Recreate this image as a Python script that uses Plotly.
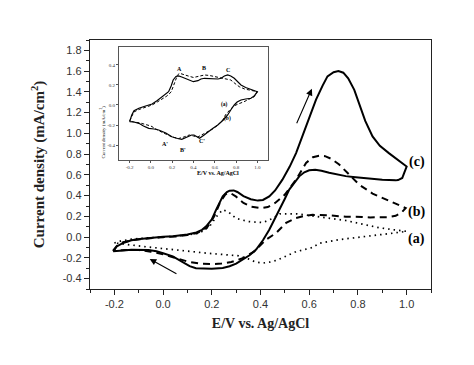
import plotly.graph_objects as go

# ---- main CV curves (E / V vs Ag/AgCl, current density mA/cm2) ----
c_x = [-0.205, -0.19, -0.164, -0.13, -0.095, -0.05, 0.0, 0.04, 0.1, 0.137, 0.16, 0.177, 0.2, 0.218, 0.245, 0.262,
       0.273, 0.29, 0.305, 0.33, 0.36, 0.389, 0.41, 0.436, 0.46, 0.49, 0.52, 0.546, 0.573, 0.6, 0.628, 0.655, 0.675,
       0.7, 0.72, 0.74, 0.76, 0.785, 0.805, 0.83, 0.86, 0.89, 0.927, 0.965, 0.99, 1.0,
       0.99, 0.982, 0.965, 0.955, 0.9, 0.86, 0.818, 0.78, 0.75, 0.723, 0.682, 0.65, 0.625, 0.6, 0.58, 0.559, 0.54,
       0.518, 0.5, 0.477, 0.456, 0.436, 0.41, 0.382, 0.355, 0.327, 0.3, 0.273, 0.245, 0.2, 0.164, 0.135, 0.109,
       0.075, 0.04, 0.0, -0.027, -0.06, -0.095, -0.13, -0.164, -0.19, -0.205]
c_y = [-0.137, -0.09, -0.056, -0.03, -0.018, -0.005, 0.003, 0.008, 0.025, 0.046, 0.07, 0.104, 0.17, 0.265, 0.393, 0.435,
       0.448, 0.45, 0.435, 0.395, 0.365, 0.352, 0.358, 0.393, 0.45, 0.554, 0.68, 0.81, 0.98, 1.15, 1.325, 1.46, 1.55,
       1.59, 1.6, 1.585, 1.53, 1.42, 1.29, 1.12, 0.97, 0.88, 0.81, 0.74, 0.7, 0.68,
       0.62, 0.57, 0.55, 0.547, 0.553, 0.56, 0.57, 0.58, 0.588, 0.6, 0.62, 0.64, 0.65, 0.645, 0.625, 0.586, 0.53,
       0.458, 0.37, 0.265, 0.165, 0.072, -0.03, -0.12, -0.175, -0.217, -0.255, -0.28, -0.297, -0.305, -0.306, -0.3,
       -0.28, -0.235, -0.185, -0.155, -0.137, -0.125, -0.12, -0.122, -0.13, -0.135, -0.137]

b_x = [-0.205, -0.19, -0.164, -0.13, -0.095, -0.05, 0.0, 0.05, 0.1, 0.14, 0.18, 0.21, 0.235, 0.255, 0.266, 0.28,
       0.3, 0.33, 0.36, 0.4, 0.43, 0.46, 0.5, 0.546, 0.587, 0.615, 0.64, 0.665, 0.69, 0.723, 0.764, 0.805, 0.86,
       0.89, 0.95, 0.996,
       0.98, 0.955, 0.92, 0.887, 0.85, 0.818, 0.75, 0.68, 0.614, 0.58, 0.546, 0.505, 0.464, 0.423, 0.375, 0.33,
       0.28, 0.24, 0.2, 0.15, 0.1, 0.05, 0.0, -0.05, -0.1, -0.15, -0.19, -0.205]
b_y = [-0.13, -0.085, -0.05, -0.03, -0.02, -0.01, 0.0, 0.005, 0.02, 0.04, 0.09, 0.2, 0.34, 0.41, 0.425, 0.42,
       0.39, 0.33, 0.295, 0.28, 0.29, 0.33, 0.41, 0.554, 0.715, 0.77, 0.785, 0.78, 0.755, 0.7, 0.6, 0.506, 0.42,
       0.39, 0.33, 0.28,
       0.24, 0.205, 0.192, 0.188, 0.19, 0.195, 0.197, 0.21, 0.215, 0.205, 0.185, 0.137, 0.04, -0.024, -0.137, -0.2,
       -0.24, -0.255, -0.26, -0.255, -0.235, -0.2, -0.165, -0.14, -0.125, -0.125, -0.13, -0.13]

a_x = [-0.2, -0.17, -0.13, -0.1, -0.05, 0.0, 0.05, 0.1, 0.15, 0.19, 0.22, 0.245, 0.27, 0.3, 0.35, 0.41, 0.45,
       0.48, 0.55, 0.614, 0.68, 0.75, 0.82, 0.887, 0.95, 1.0,
       0.95, 0.887, 0.82, 0.75, 0.723, 0.64, 0.614, 0.546, 0.51, 0.47, 0.44, 0.41, 0.38, 0.35, 0.31, 0.245, 0.18,
       0.11, 0.05, -0.027, -0.1, -0.136, -0.17, -0.2]
a_y = [-0.056, -0.035, -0.02, -0.012, -0.005, 0.0, 0.008, 0.02, 0.04, 0.1, 0.2, 0.265, 0.24, 0.18, 0.15, 0.14, 0.18,
       0.225, 0.225, 0.205, 0.185, 0.16, 0.125, 0.09, 0.07, 0.056,
       0.04, 0.024, 0.005, -0.01, -0.024, -0.06, -0.1, -0.14, -0.18, -0.22, -0.24, -0.25, -0.24, -0.21, -0.18,
       -0.169, -0.155, -0.137, -0.12, -0.104, -0.085, -0.072, -0.062, -0.056]

# ---- inset curves ----
in_s_x = [-0.2, -0.18, -0.159, -0.113, -0.05, 0.011, 0.06, 0.104, 0.14, 0.166, 0.19, 0.209, 0.235, 0.26, 0.29, 0.32,
          0.36, 0.399, 0.442, 0.47, 0.504, 0.55, 0.597, 0.63, 0.66, 0.69, 0.721, 0.75, 0.783, 0.815, 0.846, 0.89,
          0.939, 0.97, 1.0,
          0.97, 0.939, 0.89, 0.846, 0.81, 0.783, 0.75, 0.721, 0.68, 0.628, 0.58, 0.535, 0.5, 0.457, 0.43, 0.405,
          0.383, 0.36, 0.337, 0.31, 0.29, 0.25, 0.197, 0.14, 0.073, 0.03, -0.02, -0.07, -0.113, -0.16, -0.2]
in_s_y = [-0.167, -0.1, -0.057, -0.033, -0.01, 0.01, 0.045, 0.083, 0.11, 0.133, 0.19, 0.25, 0.285, 0.29, 0.28, 0.267,
          0.25, 0.233, 0.243, 0.26, 0.267, 0.262, 0.257, 0.26, 0.267, 0.29, 0.3, 0.29, 0.267, 0.235, 0.2, 0.175,
          0.157, 0.145, 0.133,
          0.09, 0.067, 0.06, 0.05, 0.03, 0.0, -0.05, -0.1, -0.15, -0.2, -0.235, -0.267, -0.3, -0.333, -0.32, -0.3,
          -0.3, -0.31, -0.317, -0.335, -0.343, -0.335, -0.317, -0.28, -0.25, -0.24, -0.233, -0.21, -0.183, -0.17, -0.167]
in_d_x = [-0.2, -0.16, -0.113, -0.05, 0.011, 0.06, 0.104, 0.15, 0.19, 0.22, 0.25, 0.27, 0.3, 0.35, 0.4, 0.45, 0.504,
          0.55, 0.6, 0.65, 0.7, 0.75, 0.79, 0.83, 0.88, 0.94, 1.0,
          0.97, 0.93, 0.875, 0.82, 0.78, 0.74, 0.7, 0.675, 0.63, 0.58, 0.53, 0.48, 0.44, 0.4, 0.36, 0.31, 0.26,
          0.2, 0.14, 0.08, 0.0, -0.1, -0.16, -0.2]
in_d_y = [-0.16, -0.07, -0.045, -0.025, 0.0, 0.03, 0.06, 0.09, 0.13, 0.22, 0.3, 0.317, 0.305, 0.29, 0.275, 0.285, 0.3,
          0.295, 0.285, 0.27, 0.265, 0.25, 0.215, 0.183, 0.16, 0.145, 0.133,
          0.083, 0.06, 0.033, 0.01, -0.01, -0.05, -0.1, -0.15, -0.2, -0.24, -0.27, -0.3, -0.32, -0.31, -0.3, -0.32,
          -0.335, -0.32, -0.29, -0.26, -0.21, -0.18, -0.17, -0.16]

x_ticks = [-0.2, 0.0, 0.2, 0.4, 0.6, 0.8, 1.0]
x_tick_text = ["-0.2", "0.0", "0.2", "0.4", "0.6", "0.8", "1.0"]
y_ticks = [-0.4, -0.2, 0.0, 0.2, 0.4, 0.6, 0.8, 1.0, 1.2, 1.4, 1.6, 1.8]
y_tick_text = ["-0.4", "-0.2", "0.0", "0.2", "0.4", "0.6", "0.8", "1.0", "1.2", "1.4", "1.6", "1.8"]
in_y_ticks = [-0.4, -0.2, 0.0, 0.2, 0.4]
in_y_tick_text = ["-0.4", "-0.2", "0.0", "0.2", "0.4"]

curve_labels = ["(a)", "(b)", "(c)"]
curve_label_y = [-0.02, 0.245, 0.72]
peak_labels = ["A", "B", "C", "A'", "B'", "C'"]
peak_label_x = [0.27, 0.5, 0.72, 0.135, 0.3, 0.48]
peak_label_y = [0.36, 0.37, 0.345, -0.39, -0.45, -0.36]

SERIF = "Liberation Serif, Times New Roman, serif"
SANS = "Liberation Sans, Arial, sans-serif"

fig = go.Figure()
fig.add_trace(go.Scatter(x=a_x, y=a_y, mode="lines", line=dict(color="black", width=1.7, dash="1.5px,4px"),
                         showlegend=False))
fig.add_trace(go.Scatter(x=b_x, y=b_y, mode="lines", line=dict(color="black", width=2, dash="7px,5px"),
                         showlegend=False))
fig.add_trace(go.Scatter(x=c_x, y=c_y, mode="lines", line=dict(color="black", width=2), showlegend=False))

fig.add_trace(go.Scatter(x=in_d_x, y=in_d_y, mode="lines", xaxis="x2", yaxis="y2",
                         line=dict(color="black", width=1, dash="3px,2px"), showlegend=False))
fig.add_trace(go.Scatter(x=in_s_x, y=in_s_y, mode="lines", xaxis="x2", yaxis="y2",
                         line=dict(color="black", width=1.2), showlegend=False))

annotations = []
for t, yy in zip(curve_labels, curve_label_y):
    annotations.append(dict(x=1.042, y=yy, xref="x", yref="y", text="<b>" + t + "</b>", showarrow=False,
                            font=dict(family=SERIF, size=14, color="black")))
for t, xx, yy in zip(peak_labels, peak_label_x, peak_label_y):
    annotations.append(dict(x=xx, y=yy, xref="x2", yref="y2", text="<b>" + t + "</b>", showarrow=False,
                            font=dict(family=SERIF, size=6, color="black")))
annotations.append(dict(x=0.69, y=0.0, xref="x2", yref="y2", text="<b>(a)</b>", showarrow=False,
                        font=dict(family=SERIF, size=5.5, color="black")))
annotations.append(dict(x=0.72, y=-0.13, xref="x2", yref="y2", text="<b>(b)</b>", showarrow=False,
                        font=dict(family=SERIF, size=5.5, color="black")))
# scan direction arrows
annotations.append(dict(x=0.611, y=1.43, ax=0.546, ay=1.084, xref="x", yref="y", axref="x", ayref="y",
                        showarrow=True, arrowhead=2, arrowsize=1.2, arrowwidth=1.1, arrowcolor="black", text=""))
annotations.append(dict(x=-0.055, y=-0.21, ax=0.061, ay=-0.36, xref="x", yref="y", axref="x", ayref="y",
                        showarrow=True, arrowhead=2, arrowsize=1.2, arrowwidth=1.1, arrowcolor="black", text=""))
# inset axis titles
annotations.append(dict(x=0.307, y=0.466, xref="paper", yref="paper", text="<b>E/V vs. Ag/AgCl</b>",
                        showarrow=False, font=dict(family=SERIF, size=6, color="black")))
annotations.append(dict(x=0.022, y=0.745, xref="paper", yref="paper", text="Current density (mA/cm<sup>2</sup>)",
                        textangle=-90, showarrow=False, font=dict(family=SERIF, size=5, color="black")))

# the page adds an 8px body margin, so the figure is drawn 8px smaller with matching margins
fig.update_layout(
    width=466, height=357,
    margin=dict(l=82, r=43, t=32, b=76),
    paper_bgcolor="white", plot_bgcolor="white",
    showlegend=False,
    annotations=annotations,
    xaxis=dict(range=[-0.3, 1.1], tickvals=x_ticks, ticktext=x_tick_text, ticks="outside", ticklen=5,
               tickwidth=1, tickcolor="#222", showline=True, linecolor="#222", linewidth=1.3, mirror=True,
               showgrid=False, zeroline=False,
               minor=dict(dtick=0.1, tick0=0, ticks="outside", ticklen=3, tickcolor="#222"),
               tickfont=dict(family=SANS, size=11, color="#333"),
               title=dict(text="<b>E/V vs. Ag/AgCl</b>", font=dict(family=SERIF, size=14, color="#222"),
                          standoff=8)),
    yaxis=dict(range=[-0.5, 1.9], tickvals=y_ticks, ticktext=y_tick_text, ticks="outside", ticklen=5,
               tickwidth=1, tickcolor="#222", showline=True, linecolor="#222", linewidth=1.3, mirror=True,
               showgrid=False, zeroline=False,
               minor=dict(dtick=0.1, tick0=0, ticks="outside", ticklen=3, tickcolor="#222"),
               tickfont=dict(family=SANS, size=11, color="#333"),
               title=dict(text="<b>Current density (mA/cm<sup>2</sup>)</b>",
                          font=dict(family=SERIF, size=15, color="#222"), standoff=14)),
    xaxis2=dict(domain=[0.085, 0.522], anchor="y2", range=[-0.3, 1.1], tickvals=x_ticks, ticktext=x_tick_text,
                ticks="outside", ticklen=2, tickwidth=0.6, tickcolor="#555", showline=True, linecolor="#555",
                linewidth=0.8, mirror=True, showgrid=False, zeroline=False,
                tickfont=dict(family=SERIF, size=5, color="#333")),
    yaxis2=dict(domain=[0.518, 0.972], anchor="x2", range=[-0.55, 0.58], tickvals=in_y_ticks,
                ticktext=in_y_tick_text, ticks="outside", ticklen=2, tickwidth=0.6, tickcolor="#555",
                showline=True, linecolor="#555", linewidth=0.8, mirror=True, showgrid=False, zeroline=False,
                tickfont=dict(family=SERIF, size=5, color="#333")),
)

fig.write_html("out.html")
